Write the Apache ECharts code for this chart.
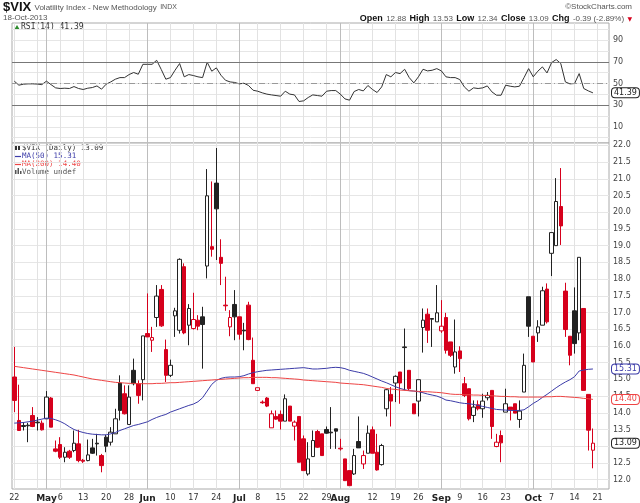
<!DOCTYPE html>
<html>
<head>
<meta charset="utf-8">
<title>$VIX Volatility Index</title>
<script src="https://cdn.jsdelivr.net/npm/echarts@6/dist/echarts.min.js"></script>
<style>html,body{margin:0;padding:0;background:#fff;}</style>
</head>
<body>
<div id="chart" style="width:640px;height:503px;"></div>
<script>
// trading days shown on the chart
var dates = [
  '2013-04-22','2013-04-23','2013-04-24','2013-04-25','2013-04-26','2013-04-29','2013-04-30',
  '2013-05-01','2013-05-02','2013-05-03','2013-05-06','2013-05-07','2013-05-08','2013-05-09','2013-05-10',
  '2013-05-13','2013-05-14','2013-05-15','2013-05-16','2013-05-17','2013-05-20','2013-05-21','2013-05-22',
  '2013-05-23','2013-05-24','2013-05-28','2013-05-29','2013-05-30','2013-05-31',
  '2013-06-03','2013-06-04','2013-06-05','2013-06-06','2013-06-07','2013-06-10','2013-06-11','2013-06-12',
  '2013-06-13','2013-06-14','2013-06-17','2013-06-18','2013-06-19','2013-06-20','2013-06-21','2013-06-24',
  '2013-06-25','2013-06-26','2013-06-27','2013-06-28',
  '2013-07-01','2013-07-02','2013-07-03','2013-07-05','2013-07-08','2013-07-09','2013-07-10','2013-07-11',
  '2013-07-12','2013-07-15','2013-07-16','2013-07-17','2013-07-18','2013-07-19','2013-07-22','2013-07-23',
  '2013-07-24','2013-07-25','2013-07-26','2013-07-29','2013-07-30','2013-07-31',
  '2013-08-01','2013-08-02','2013-08-05','2013-08-06','2013-08-07','2013-08-08','2013-08-09','2013-08-12',
  '2013-08-13','2013-08-14','2013-08-15','2013-08-16','2013-08-19','2013-08-20','2013-08-21','2013-08-22',
  '2013-08-23','2013-08-26','2013-08-27','2013-08-28','2013-08-29','2013-08-30',
  '2013-09-03','2013-09-04','2013-09-05','2013-09-06','2013-09-09','2013-09-10','2013-09-11','2013-09-12',
  '2013-09-13','2013-09-16','2013-09-17','2013-09-18','2013-09-19','2013-09-20','2013-09-23','2013-09-24',
  '2013-09-25','2013-09-26','2013-09-27','2013-09-30',
  '2013-10-01','2013-10-02','2013-10-03','2013-10-04','2013-10-07','2013-10-08','2013-10-09','2013-10-10',
  '2013-10-11','2013-10-14','2013-10-15','2013-10-16','2013-10-17','2013-10-18'
];
// empty slots on the right of the axis
var padDates = ['2013-10-21','2013-10-22','2013-10-23'];

var opens = [
  15.07,13.77,13.62,13.63,13.92,13.72,13.69,13.82,14.44,12.92,13.05,12.67,12.85,12.87,13.07,
  12.58,12.57,12.95,13.09,12.72,13.27,13.12,13.37,14.89,14.57,13.65,15.27,14.87,14.99,
  16.37,16.17,16.85,17.69,15.89,15.12,16.90,16.47,18.37,16.62,16.52,16.77,16.87,18.39,18.97,20.87,
  18.65,17.22,16.57,17.24,16.87,16.47,17.22,15.57,14.67,14.32,14.44,13.55,13.89,13.95,13.75,14.20,
  13.60,13.89,13.22,12.17,12.69,13.44,13.37,13.50,13.42,13.52,12.92,12.62,12.27,12.17,13.14,12.47,
  12.79,13.49,12.82,12.45,14.12,14.55,14.89,15.22,15.97,15.27,14.27,14.35,16.55,16.95,16.82,16.72,
  16.45,16.85,16.12,15.37,15.85,14.87,14.72,13.92,14.24,14.12,14.45,14.67,12.99,13.32,14.02,14.17,
  14.27,13.80,14.62,17.47,16.29,16.39,16.62,17.70,18.77,19.00,20.17,17.64,16.29,17.05,16.39,17.12,
  14.55,12.88
];
var highs = [
  15.97,14.84,13.72,13.70,14.17,13.87,13.77,14.65,14.47,13.17,13.27,12.97,12.89,13.47,13.49,
  12.62,13.20,13.22,13.37,12.77,13.34,13.57,14.12,15.12,14.82,14.82,15.62,14.97,16.30,
  17.57,16.57,17.82,17.82,16.19,15.59,17.14,18.62,18.47,17.25,17.59,16.92,17.17,21.29,20.92,21.92,
  19.19,18.07,17.07,17.67,16.87,16.69,17.32,16.25,14.75,14.37,14.47,14.07,14.07,14.07,14.55,14.20,
  13.77,13.89,13.32,13.12,13.47,13.49,13.37,13.59,14.17,13.52,13.22,12.62,12.27,12.92,13.89,12.87,
  13.62,13.59,13.37,13.07,14.72,14.77,15.12,15.22,16.52,15.27,14.27,14.99,17.12,17.12,16.82,17.82,
  17.37,16.99,16.12,16.79,15.99,15.07,14.72,14.37,14.37,14.57,14.62,14.67,13.37,13.47,14.72,14.17,
  14.27,14.37,15.77,17.47,16.29,16.77,17.77,17.87,19.39,21.02,21.32,17.89,16.29,17.75,18.65,17.12,
  14.55,13.53
];
var lows = [
  14.02,13.47,13.47,13.12,13.57,13.47,13.47,13.82,13.57,12.82,12.62,12.52,12.62,12.82,12.52,
  12.50,12.55,12.77,12.72,12.22,12.82,13.02,13.37,13.77,13.95,13.65,14.82,14.27,14.37,
  16.27,15.82,16.57,16.57,14.92,15.07,16.27,16.37,16.35,16.02,16.49,16.47,15.32,18.02,18.67,18.57,
  17.82,17.05,16.29,16.17,16.19,15.87,16.17,14.87,14.65,14.27,14.17,13.55,13.79,13.50,13.75,13.75,
  13.17,12.52,12.27,12.12,12.69,12.95,12.72,13.37,12.92,12.92,12.87,11.97,11.82,12.14,12.95,12.32,
  12.79,12.79,12.27,12.42,13.89,13.59,14.32,14.27,14.67,14.67,13.97,13.89,15.80,16.09,15.97,16.72,
  16.39,15.77,15.67,15.17,15.22,14.47,13.77,13.72,14.07,13.85,14.37,13.22,12.97,12.52,14.02,13.77,
  13.99,13.55,14.62,16.27,15.52,16.12,16.62,16.67,18.09,19.00,19.02,16.27,15.42,15.77,16.17,14.67,
  12.87,12.34
];
var closes = [
  14.37,13.47,13.59,13.61,13.59,13.70,13.49,14.47,13.57,12.85,12.67,12.82,12.67,13.09,12.57,
  12.55,12.74,12.79,13.07,12.42,13.00,13.42,13.82,14.07,13.97,14.47,14.87,14.52,16.30,
  16.27,16.25,17.49,16.60,15.12,15.42,17.05,18.59,16.39,17.12,16.79,16.59,16.64,20.49,18.89,20.10,
  18.47,17.20,16.85,16.87,16.35,16.45,16.19,14.87,14.75,14.30,14.20,13.97,13.81,13.75,14.42,13.75,
  13.72,12.52,12.27,12.62,13.17,12.97,12.72,13.39,13.40,13.45,12.94,11.97,11.82,12.72,12.95,12.72,
  13.39,12.79,12.29,13.02,14.69,14.35,15.09,14.89,15.95,14.72,13.97,14.99,16.77,16.47,16.80,16.99,
  16.59,15.87,15.72,15.82,15.62,14.52,13.82,14.17,14.12,14.35,14.52,13.59,13.12,13.10,14.27,14.09,
  13.99,14.05,15.42,16.59,15.52,16.57,17.65,16.72,19.39,20.32,19.59,16.49,15.72,16.07,18.65,14.67,
  13.48,13.09
];
var ma50 = [
  13.69,13.70,13.71,13.73,13.75,13.78,13.81,13.84,13.83,13.79,13.74,13.67,13.58,13.50,13.45,
  13.41,13.38,13.36,13.35,13.34,13.34,13.37,13.41,13.47,13.52,13.57,13.62,13.65,13.69,
  13.73,13.80,13.86,13.91,13.95,14.02,14.07,14.12,14.17,14.22,14.26,14.33,14.45,14.65,14.85,14.97,
  15.03,15.06,15.07,15.07,15.08,15.11,15.16,15.20,15.23,15.25,15.27,15.28,15.29,15.30,15.31,15.32,
  15.33,15.34,15.35,15.33,15.31,15.31,15.32,15.33,15.35,15.36,15.35,15.32,15.27,15.24,15.21,15.18,
  15.13,15.07,15.01,14.95,14.90,14.84,14.78,14.73,14.69,14.66,14.65,14.63,14.60,14.56,14.53,14.50,
  14.45,14.38,14.36,14.33,14.30,14.28,14.27,14.25,14.22,14.19,14.16,14.13,14.10,14.09,14.08,14.07,
  14.07,14.07,14.09,14.18,14.28,14.36,14.46,14.55,14.65,14.75,14.84,14.92,14.99,15.08,15.25,15.28,
  15.30,15.31
];
var ma200 = [
  15.39,15.37,15.35,15.33,15.31,15.29,15.27,15.25,15.23,15.21,15.19,15.17,15.15,15.13,15.10,
  15.07,15.04,15.01,14.99,14.97,14.95,14.93,14.91,14.90,14.89,14.88,14.88,14.87,14.87,
  14.87,14.87,14.88,14.88,14.89,14.90,14.90,14.91,14.92,14.93,14.94,14.95,14.96,14.97,14.98,14.99,
  15.00,15.01,15.02,15.03,15.04,15.05,15.05,15.06,15.06,15.06,15.06,15.05,15.05,15.04,15.03,15.02,
  15.01,15.00,14.98,14.97,14.96,14.95,14.94,14.93,14.92,14.91,14.89,14.88,14.87,14.86,14.85,14.84,
  14.82,14.80,14.78,14.76,14.73,14.71,14.70,14.68,14.67,14.66,14.65,14.64,14.63,14.63,14.62,14.61,
  14.60,14.58,14.56,14.55,14.55,14.54,14.54,14.53,14.53,14.52,14.52,14.51,14.50,14.49,14.49,14.48,
  14.48,14.47,14.47,14.47,14.47,14.47,14.47,14.48,14.48,14.49,14.49,14.48,14.47,14.46,14.45,14.43,
  14.42,14.40
];
var rsi14 = [
  52.2,48.5,49.4,49.7,49.7,49.5,49.0,52.2,49.0,46.0,45.4,45.7,45.4,47.2,45.4,
  44.5,45.7,46.3,47.8,44.8,49.4,51.5,54.0,55.5,55.5,58.3,60.2,58.6,67.8,
  67.8,67.8,71.5,63.0,54.0,55.5,62.3,68.5,56.2,58.3,57.4,56.2,55.5,69.7,61.4,64.5,
  57.7,53.0,51.5,51.0,49.7,50.3,48.2,43.8,42.9,41.4,40.2,39.5,38.9,38.3,42.9,40.2,
  39.5,33.4,34.0,37.1,39.5,38.9,38.3,42.9,43.5,43.5,40.2,35.8,34.6,42.6,44.5,43.2,
  48.2,44.5,41.7,46.9,58.3,56.2,60.2,59.2,63.2,55.5,50.6,56.2,63.2,61.7,62.3,63.8,
  61.7,56.2,55.5,55.5,53.7,46.9,42.9,46.0,45.4,46.0,47.8,42.3,39.2,39.2,48.5,47.5,
  46.9,47.5,55.5,63.8,56.2,61.4,65.4,59.8,69.4,72.2,68.5,51.5,49.7,50.0,59.2,45.4,
  43.2,41.39
];
// axis tick values
var priceTicks = [12.0,12.5,13.0,13.5,14.0,14.5,15.0,15.5,16.0,16.5,17.0,17.5,18.0,18.5,19.0,19.5,20.0,20.5,21.0,21.5,22.0];
var rsiLines = [0,10,20,30,40,50,60,70,80,90,100];
var rsiLabels = [10,30,50,70,90];
var rsiBands = [30,50,70];

var RED = '#d6001c', DARK = '#222', BLUE = '#3b3ba8', MARED = '#ee4444';
var FONT = 'DejaVu Sans';
var monthNames = ['Jan','Feb','Mar','Apr','May','Jun','Jul','Aug','Sep','Oct','Nov','Dec'];

var allDates = dates.concat(padDates);
var info = allDates.map(function (s) {
  var d = new Date(s + 'T00:00:00Z');
  return {m: d.getUTCMonth(), day: d.getUTCDate(), wd: d.getUTCDay()};
});
var isMonthStart = [], isWeekStart = [], monthIdx = [];
for (var i = 0; i < allDates.length; i++) {
  isMonthStart.push(i > 0 && info[i].m !== info[i - 1].m);
  isWeekStart.push(i === 0 || info[i].wd < info[i - 1].wd);
  if (isMonthStart[i]) monthIdx.push(i);
}
// month name on first session of a month, day number on first session of a week
function tickLabel(i) {
  if (isMonthStart[i]) return '{m|' + monthNames[info[i].m] + '}';
  if (isWeekStart[i]) {
    var clear = monthIdx.every(function (k) { return Math.abs(k - i) >= 3; });
    if (clear) return String(info[i].day);
  }
  return '';
}

// hollow = close above open, red = close below previous close
var candleData = dates.map(function (d, i) {
  var o = opens[i], c = closes[i];
  var ref = i > 0 ? closes[i - 1] : o;
  var col = c < ref ? RED : DARK;
  var fill = c > o ? '#fff' : col;
  return {
    value: [o, c, lows[i], highs[i]],
    itemStyle: {color: fill, color0: fill, borderColor: col, borderColor0: col, borderWidth: 1}
  };
});

var last = dates.length - 1;
var lastClose = closes[last], prevClose = closes[last - 1];
var chg = lastClose - prevClose, pct = chg / prevClose * 100;

function tag(value, color) {
  return {
    yAxis: value,
    lineStyle: {color: 'transparent', width: 0},
    label: {
      show: true, position: 'end', distance: 3, formatter: value.toFixed(2),
      color: color, fontFamily: FONT, fontSize: 8,
      backgroundColor: '#fff', borderColor: color, borderWidth: 1, borderRadius: 3, padding: [1, 2, 0, 2]
    }
  };
}

function xAxes(grid, withLabels) {
  return [{
    type: 'category', gridIndex: grid, data: allDates, boundaryGap: true,
    axisLine: {show: false}, axisTick: {show: false},
    axisLabel: {
      show: withLabels, interval: function (idx) { return tickLabel(idx) !== ''; },
      formatter: function (v, idx) { return tickLabel(idx); },
      fontFamily: FONT, fontSize: 8, color: '#333', margin: 5,
      rich: {m: {fontFamily: FONT, fontSize: 9, fontWeight: 'bold', color: '#222'}}
    },
    splitLine: {show: true, alignWithLabel: true,
      interval: function (idx) { return isWeekStart[idx]; },
      lineStyle: {color: '#e2e2e2', width: 1}}
  }, {
    type: 'category', gridIndex: grid, data: allDates, boundaryGap: true,
    axisLine: {show: false}, axisTick: {show: false}, axisLabel: {show: false},
    splitLine: {show: true, alignWithLabel: true,
      interval: function (idx) { return isMonthStart[idx]; },
      lineStyle: {color: '#bdbdbd', width: 1}}
  }];
}

var chart = echarts.init(document.getElementById('chart'));
chart.setOption({
  animation: false,
  backgroundColor: '#fff',
  grid: [
    {left: 12, right: 31, top: 23, height: 120, show: true, borderColor: '#aaa', borderWidth: 1, backgroundColor: '#fff'},
    {left: 12, right: 31, top: 143, height: 346, show: true, borderColor: '#aaa', borderWidth: 1, backgroundColor: '#fff'}
  ],
  xAxis: xAxes(0, false).concat(xAxes(1, true)),
  yAxis: [{
    type: 'value', gridIndex: 0, position: 'right', min: -5, max: 106,
    axisLine: {show: false},
    axisTick: {show: false, customValues: rsiLines},
    axisLabel: {customValues: rsiLabels, fontFamily: FONT, fontSize: 8, color: '#444', margin: 4},
    splitLine: {show: true, lineStyle: {color: '#e6e6e6'}}
  }, {
    type: 'value', gridIndex: 1, position: 'right', min: 11.72, max: 22.07,
    axisLine: {show: false},
    axisTick: {show: false, customValues: priceTicks},
    axisLabel: {customValues: priceTicks, fontFamily: FONT, fontSize: 8, color: '#444', margin: 4,
      formatter: function (v) { return v.toFixed(1); }},
    splitLine: {show: true, lineStyle: {color: '#e6e6e6'}}
  }],
  series: [{
    name: 'RSI(14)', type: 'line', xAxisIndex: 0, yAxisIndex: 0, data: rsi14,
    symbol: 'none', lineStyle: {color: '#333', width: 1},
    markLine: {
      silent: true, symbol: 'none', animation: false,
      data: [
        {yAxis: rsiBands[2], lineStyle: {color: '#777', width: 1.2, type: 'solid'}, label: {show: false}},
        {yAxis: rsiBands[0], lineStyle: {color: '#777', width: 1.2, type: 'solid'}, label: {show: false}},
        {yAxis: rsiBands[1], lineStyle: {color: '#999', width: 1, type: [6, 3, 1, 3]}, label: {show: false}},
        tag(rsi14[last], '#222')
      ]
    }
  }, {
    name: '$VIX', type: 'candlestick', xAxisIndex: 2, yAxisIndex: 1, data: candleData,
    barWidth: 4,
    markLine: {silent: true, symbol: 'none', animation: false, data: [tag(lastClose, '#222')]}
  }, {
    name: 'MA(50)', type: 'line', xAxisIndex: 2, yAxisIndex: 1, data: ma50,
    symbol: 'none', lineStyle: {color: BLUE, width: 1},
    markLine: {silent: true, symbol: 'none', animation: false, data: [tag(ma50[last], BLUE)]}
  }, {
    name: 'MA(200)', type: 'line', xAxisIndex: 2, yAxisIndex: 1, data: ma200,
    symbol: 'none', lineStyle: {color: MARED, width: 1},
    markLine: {silent: true, symbol: 'none', animation: false, data: [tag(ma200[last], MARED)]}
  }],
  graphic: [
    {type: 'text', left: 3, top: 1, style: {
      text: '{t|$VIX} {s|Volatility Index - New Methodology} {x|INDX}',
      rich: {
        t: {fontFamily: 'Liberation Sans', fontSize: 13, fontWeight: 'bold', fill: '#111'},
        s: {fontFamily: 'Liberation Sans', fontSize: 8, fill: '#555'},
        x: {fontFamily: 'Liberation Sans', fontSize: 7, fill: '#555'}
      }}},
    {type: 'text', left: 3, top: 14, style: {text: '18-Oct-2013', fontFamily: 'Liberation Sans', fontSize: 8, fill: '#555'}},
    {type: 'text', right: 8, top: 3, style: {text: '\u00a9StockCharts.com', fontFamily: 'Liberation Sans', fontSize: 8, fill: '#555'}},
    {type: 'text', right: 8, top: 13, style: {
      text: '{b|Open} {v|' + opens[last].toFixed(2) + '} {b|High} {v|' + highs[last].toFixed(2) +
        '} {b|Low} {v|' + lows[last].toFixed(2) + '} {b|Close} {v|' + lastClose.toFixed(2) +
        '} {b|Chg} {v|' + chg.toFixed(2) + ' (' + pct.toFixed(2) + '%)} {r|\u25BC}',
      rich: {
        b: {fontFamily: 'Liberation Sans', fontSize: 9, fontWeight: 'bold', fill: '#111'},
        v: {fontFamily: 'Liberation Sans', fontSize: 8, fill: '#555'},
        r: {fontFamily: 'DejaVu Sans', fontSize: 6, fill: RED}
      }}},
    // RSI legend
    {type: 'polygon', shape: {points: [[14, 30], [17, 25], [20, 30]]}, style: {fill: '#2e8b2e'}},
    {type: 'text', left: 21, top: 23, style: {text: 'RSI(14) ' + rsi14[last].toFixed(2), fontFamily: 'DejaVu Sans Mono', fontSize: 8, fill: '#333'}},
    // main legend
    {type: 'rect', shape: {x: 15, y: 145, width: 2, height: 5}, style: {fill: '#333'}},
    {type: 'rect', shape: {x: 18, y: 146, width: 2, height: 4}, style: {fill: '#333'}},
    {type: 'text', left: 22, top: 144, style: {text: '$VIX (Daily) ' + lastClose.toFixed(2), fontFamily: 'DejaVu Sans Mono', fontSize: 7.5, fill: '#333'}},
    {type: 'line', shape: {x1: 15, y1: 156.5, x2: 21, y2: 156.5}, style: {stroke: BLUE, lineWidth: 1.2}},
    {type: 'text', left: 22, top: 152, style: {text: 'MA(50) ' + ma50[last].toFixed(2), fontFamily: 'DejaVu Sans Mono', fontSize: 7.5, fill: BLUE}},
    {type: 'line', shape: {x1: 15, y1: 164.5, x2: 21, y2: 164.5}, style: {stroke: MARED, lineWidth: 1.2}},
    {type: 'text', left: 22, top: 160, style: {text: 'MA(200) ' + ma200[last].toFixed(2), fontFamily: 'DejaVu Sans Mono', fontSize: 7.5, fill: MARED}},
    {type: 'rect', shape: {x: 15, y: 170, width: 1.5, height: 4}, style: {fill: '#555'}},
    {type: 'rect', shape: {x: 17.5, y: 168, width: 1.5, height: 6}, style: {fill: '#555'}},
    {type: 'rect', shape: {x: 20, y: 171, width: 1.5, height: 3}, style: {fill: '#555'}},
    {type: 'text', left: 22, top: 168, style: {text: 'Volume undef', fontFamily: 'DejaVu Sans Mono', fontSize: 7.5, fill: '#555'}}
  ]
});
</script>
</body>
</html>
